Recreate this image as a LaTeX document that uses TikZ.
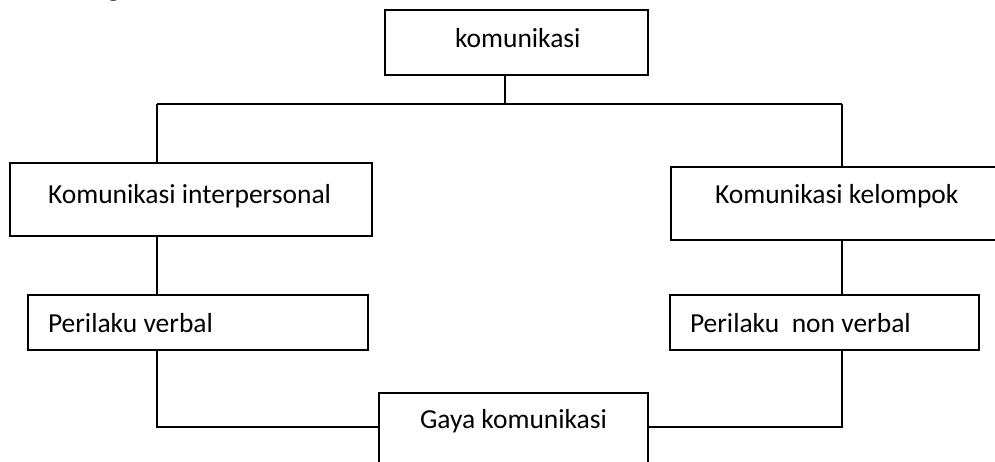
\documentclass[tikz,border=0pt]{standalone}
\usepackage{fontspec}
\setmainfont{Carlito}
\begin{document}
\begin{tikzpicture}[x=1pt,y=-1pt,
  box/.style={draw, line width=1.6pt, rectangle, inner sep=0pt, outer sep=0pt},
  conn/.style={line width=1.6pt},
  lbl/.style={anchor=base west, inner sep=0pt, outer sep=0pt, font=\fontsize{27.5}{33}\selectfont}]
\useasboundingbox (0,0) rectangle (995,461);
\clip (0,0) rectangle (995,461);
% boxes
\node[box, minimum width=263pt, minimum height=65pt] (top) at (516.5,42.5) {};
\node[box, minimum width=362pt, minimum height=73pt] (interp) at (191,199.5) {};
\node[box, minimum width=339pt, minimum height=73pt] (kel) at (840.5,203.5) {};
\node[box, minimum width=340pt, minimum height=55pt] (verbal) at (198,322.5) {};
\node[box, minimum width=309pt, minimum height=55pt] (nonverbal) at (824.5,322.5) {};
\node[box, minimum width=269pt, minimum height=97pt] (gaya) at (513.5,441.5) {};
% labels
\node[lbl] (tfrag) at (107,-4) {g};
\node[lbl] (ttop) at (455,47) {komunikasi};
\node[lbl] (tinterp) at (48,203) {Komunikasi interpersonal};
\node[lbl] (tkel) at (715,203) {Komunikasi kelompok};
\node[lbl] (tverbal) at (48,332) {Perilaku verbal};
\node[lbl] (tnonverbal) at (690,332) {Perilaku\ \ non verbal};
\node[lbl] (tgaya) at (420,428) {Gaya komunikasi};
% junction coordinates
\coordinate (jc) at (505,104);
\coordinate (jl) at (157,104);
\coordinate (jr) at (842,104);
\coordinate (gy) at (0,427);
% connectors
\draw[conn] (jc |- top.south) -- (jc);
\draw[conn] (jl) -- (jr);
\draw[conn] (jl) -- (jl |- interp.north);
\draw[conn] (jr) -- (jr |- kel.north);
\draw[conn] (jl |- interp.south) -- (jl |- verbal.north);
\draw[conn] (jr |- kel.south) -- (jr |- nonverbal.north);
\draw[conn] (jl |- verbal.south) |- (gaya.west |- gy);
\draw[conn] (jr |- nonverbal.south) |- (gaya.east |- gy);
\end{tikzpicture}
\end{document}
